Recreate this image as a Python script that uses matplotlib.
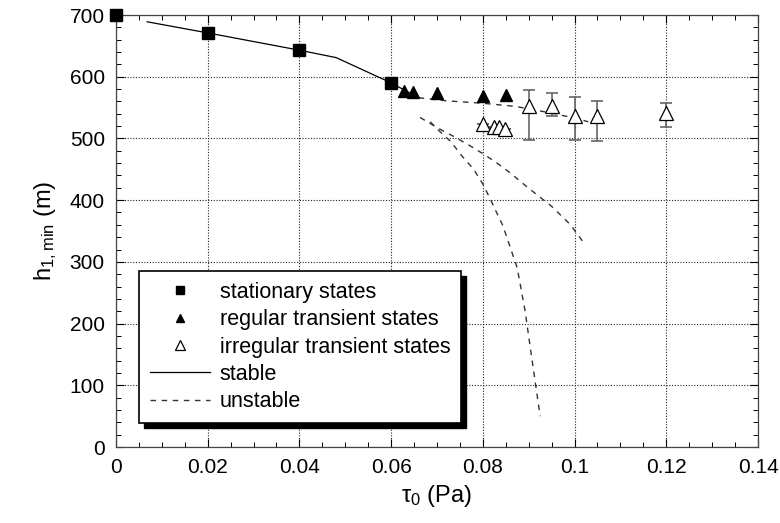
import matplotlib
matplotlib.use("Agg")
import matplotlib.pyplot as plt
from matplotlib.patches import Rectangle
from matplotlib.ticker import MultipleLocator

plt.rcParams["font.family"] = ["Liberation Sans", "DejaVu Sans"]
plt.rcParams["mathtext.default"] = "regular"

# stationary states (filled squares)
stat_x = [0.0, 0.02, 0.04, 0.06]
stat_y = [700, 671, 643, 590]

# regular transient states (filled triangles)
reg_x = [0.0628, 0.0648, 0.070, 0.080, 0.085]
reg_y = [577, 576, 573, 568, 571]

# irregular transient states (open triangles) with error bars
irr_x = [0.080, 0.0824, 0.0836, 0.0848, 0.090, 0.095, 0.100, 0.105, 0.120]
irr_y = [523, 518, 518, 516, 552, 552, 536, 536, 542]
irr_lo = [523, 518, 518, 516, 498, 537, 497, 496, 518]
irr_hi = [523, 518, 518, 516, 579, 574, 567, 561, 558]

# stable branch (solid)
stable_x = [0.0068, 0.02, 0.04, 0.048, 0.06, 0.066]
stable_y = [689, 671, 643, 631, 590, 566]

# unstable branches (dashed)
unst1_x = [0.066, 0.072, 0.080, 0.087, 0.090, 0.095, 0.100, 0.103]
unst1_y = [566, 561, 557, 552, 548, 541, 533, 527]
unst2_x = [0.0663, 0.0704, 0.0737, 0.077, 0.0803, 0.0831, 0.086, 0.0897, 0.095, 0.099, 0.1019]
unst2_y = [534, 516, 503, 489, 474, 460, 444, 421, 390, 361, 332]
unst3_x = [0.0685, 0.0705, 0.073, 0.0755, 0.078, 0.080, 0.0816, 0.0844, 0.0875, 0.0892, 0.0914, 0.0925]
unst3_y = [527, 512, 495, 471, 450, 426, 402, 358, 290, 221, 106, 50]

fig = plt.figure(figsize=(7.8, 5.23), dpi=100)
ax = fig.add_axes([0.1487, 0.1453, 0.8231, 0.826])

ax.plot(stable_x, stable_y, color="black", lw=0.9, label="stable", zorder=3)
dash_kw = dict(color="#333333", lw=1.0, dashes=(4, 4), zorder=3)
ax.plot(unst1_x, unst1_y, label="unstable", **dash_kw)
ax.plot(unst2_x, unst2_y, **dash_kw)
ax.plot(unst3_x, unst3_y, **dash_kw)

err_lo = [y - lo for y, lo in zip(irr_y, irr_lo)]
err_hi = [hi - y for y, hi in zip(irr_y, irr_hi)]
ax.errorbar(irr_x, irr_y, yerr=[err_lo, err_hi], fmt="none", ecolor="#666666",
            elinewidth=1.2, capsize=4, capthick=1.2, zorder=4)

ax.plot(stat_x, stat_y, "s", color="black", ms=8.5, clip_on=False,
        label="stationary states", zorder=5)
ax.plot(reg_x, reg_y, "^", color="black", ms=8.5, label="regular transient states", zorder=5)
ax.plot(irr_x, irr_y, "^", mfc="white", mec="black", mew=0.9, ms=9.5,
        label="irregular transient states", zorder=5)

ax.set_xlim(0, 0.14)
ax.set_ylim(0, 700)
ax.xaxis.set_major_locator(MultipleLocator(0.02))
ax.xaxis.set_minor_locator(MultipleLocator(0.005))
ax.yaxis.set_major_locator(MultipleLocator(100))
ax.yaxis.set_minor_locator(MultipleLocator(20))
ax.set_xticks([0, 0.02, 0.04, 0.06, 0.08, 0.1, 0.12, 0.14])
ax.set_xticklabels(["0", "0.02", "0.04", "0.06", "0.08", "0.1", "0.12", "0.14"])
ax.tick_params(which="both", direction="in", top=True, right=True, labelsize=15, pad=8)
ax.tick_params(which="major", length=6, width=0.8)
ax.tick_params(which="minor", length=3.5, width=0.7)
ax.grid(True, which="major", ls=(0, (1, 1.5)), color="#222222", lw=0.8)
for s in ax.spines.values():
    s.set_linewidth(0.9)
    s.set_color("#444444")

ax.set_xlabel(r"τ$_{0}$ (Pa)", fontsize=17, labelpad=4)
ax.set_ylabel(r"h$_{1,min}$ (m)", fontsize=17, labelpad=8)

handles, labels = ax.get_legend_handles_labels()
order = ["stationary states", "regular transient states", "irregular transient states",
         "stable", "unstable"]
hmap = dict(zip(labels, handles))
leg = ax.legend([hmap[k] for k in order], order, loc="lower left",
                bbox_to_anchor=(0.036, 0.055), fontsize=15.5, frameon=True,
                fancybox=False, edgecolor="black", framealpha=1, markerscale=0.75,
                handlelength=2.8, handletextpad=0.45, labelspacing=0.3,
                borderpad=0.5, borderaxespad=0)
leg.get_frame().set_linewidth(1.2)

fig.canvas.draw()
bb = leg.get_window_extent()
shadow = Rectangle((bb.x0 + 5, bb.y0 - 5), bb.width, bb.height,
                   transform=None, facecolor="black", edgecolor="black", zorder=9)
leg.remove()
fig.add_artist(shadow)
leg.set_zorder(10)
fig.add_artist(leg)

fig.savefig("out.png", dpi=100)
